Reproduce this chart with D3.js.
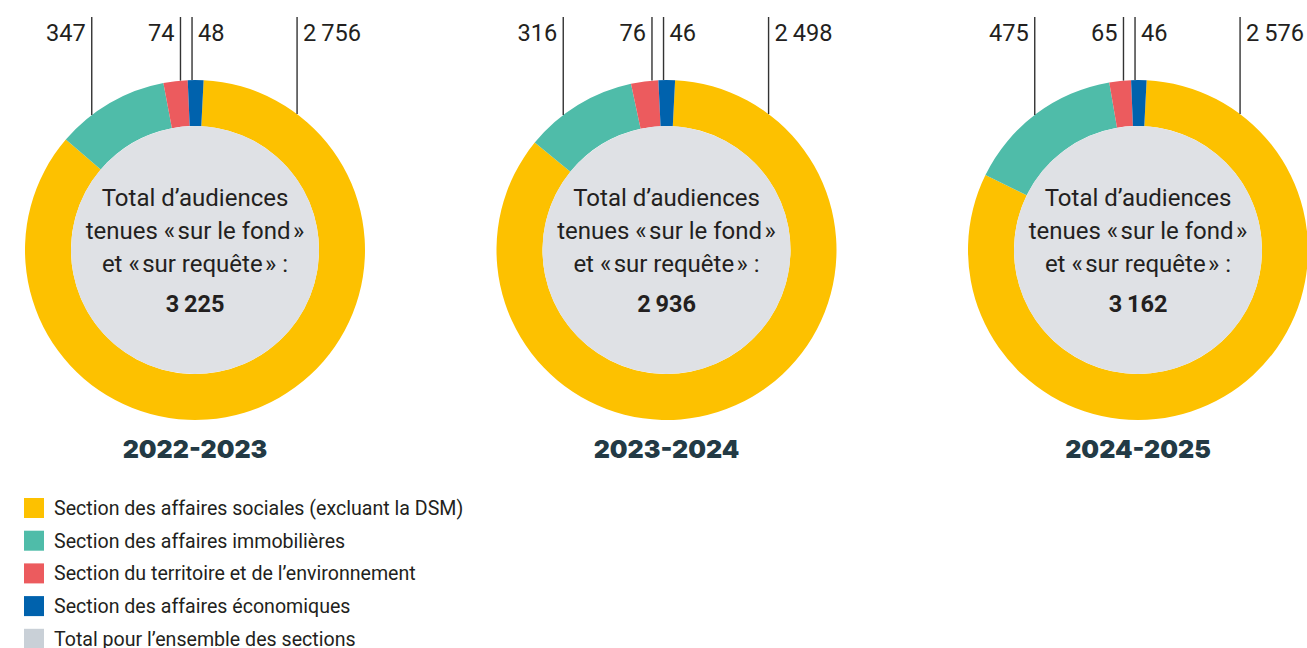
<!DOCTYPE html>
<html>
<head>
<meta charset="utf-8">
<script src="https://cdn.jsdelivr.net/npm/d3@7"></script>
<style>
  body { margin: 0; background: #fff; }
  svg { display: block; }
</style>
</head>
<body>
<div id="chart"></div>
<script>
// data
const years = ['2022-2023', '2023-2024', '2024-2025'];
const sections = [
  'Section des affaires sociales (excluant la DSM)',
  'Section des affaires immobilières',
  'Section du territoire et de l\u2019environnement',
  'Section des affaires économiques'
];
const totalLabel = 'Total pour l\u2019ensemble des sections';
const sociales = [2756, 2498, 2576];
const immobilieres = [347, 316, 475];
const territoire = [74, 76, 65];
const economiques = [48, 46, 46];
const totals = [3225, 2936, 3162];

const colors = ['#fdc100', '#4fbca9', '#ec5b5e', '#0062ad'];
const totalColor = '#c9d0d7';
const innerColor = '#dfe1e5';
const textColor = '#231f20';

const w = 1307, h = 648;
const outerR = 170, innerR = 124, cy = 250;
const rotation = 2.9 * Math.PI / 180;
// where the callout lines leave the ring (degrees from top), per section
const calloutAngles = [36.9, -37.4, -4.9, -1.0];

const fmt = d3.formatLocale({ decimal: ',', thousands: '\u2009', grouping: [3], currency: ['', ''] }).format(',d');

const svg = d3.select('#chart').append('svg').attr('width', w).attr('height', h);

const xScale = d3.scalePoint().domain(years).range([195, 1138]);

const pie = d3.pie().sort(null).value(d => d)
  .startAngle(rotation).endAngle(rotation + 2 * Math.PI);
const arc = d3.arc().innerRadius(innerR).outerRadius(outerR);

years.forEach((yr, i) => {
  const vals = [sociales[i], immobilieres[i], territoire[i], economiques[i]];
  const g = svg.append('g').attr('transform', 'translate(' + xScale(yr) + ',' + cy + ')');

  g.selectAll('path.slice')
    .data(pie(vals))
    .enter()
    .append('path')
    .attr('class', 'slice')
    .attr('d', arc)
    .attr('fill', (d, j) => colors[j]);

  g.append('circle').attr('r', innerR).attr('fill', innerColor);

  // callouts
  vals.forEach((v, j) => {
    const a = calloutAngles[j] * Math.PI / 180;
    const lx = outerR * Math.sin(a);
    const ly = -outerR * Math.cos(a);
    g.append('line')
      .attr('x1', lx).attr('x2', lx)
      .attr('y1', ly).attr('y2', 17 - cy)
      .attr('stroke', '#333')
      .attr('stroke-width', 1.4);
    const right = calloutAngles[j] > -3;
    g.append('text')
      .attr('x', right ? lx + 6 : lx - 6)
      .attr('y', 41 - cy)
      .attr('text-anchor', right ? 'start' : 'end')
      .attr('font-family', 'Roboto, sans-serif')
      .attr('font-size', 23.6)
      .attr('fill', textColor)
      .text(fmt(v));
  });

  const centerLines = ['Total d\u2019audiences', 'tenues «\u200Asur le fond\u200A»', 'et «\u200Asur requête\u200A» :'];
  centerLines.forEach((t, k) => {
    g.append('text')
      .attr('y', -44 + k * 33)
      .attr('text-anchor', 'middle')
      .attr('font-family', 'Roboto, sans-serif')
      .attr('font-size', 24)
      .attr('fill', textColor)
      .text(t);
  });
  g.append('text')
    .attr('y', 62)
    .attr('text-anchor', 'middle')
    .attr('font-family', 'Roboto, sans-serif')
    .attr('font-weight', 700)
    .attr('font-size', 23.5)
    .attr('fill', textColor)
    .text(fmt(totals[i]));

  g.append('text')
    .attr('y', 458 - cy)
    .attr('text-anchor', 'middle')
    .attr('font-family', 'Inter, sans-serif')
    .attr('font-weight', 900)
    .attr('font-size', 25)
    .attr('fill', '#233a45')
    .text(yr);
});

// legend
const legendItems = sections.map((s, j) => ({ label: s, color: colors[j] }))
  .concat([{ label: totalLabel, color: totalColor }]);
const legend = svg.append('g').attr('transform', 'translate(24,498)');
const rows = legend.selectAll('g')
  .data(legendItems)
  .enter()
  .append('g')
  .attr('transform', (d, j) => 'translate(0,' + (j * 32.7) + ')');
rows.append('rect').attr('width', 20).attr('height', 20).attr('fill', d => d.color);
rows.append('text')
  .attr('x', 30)
  .attr('y', 17)
  .attr('font-family', 'Roboto, sans-serif')
  .attr('font-size', 19.6)
  .attr('fill', textColor)
  .text(d => d.label);
</script>
</body>
</html>
